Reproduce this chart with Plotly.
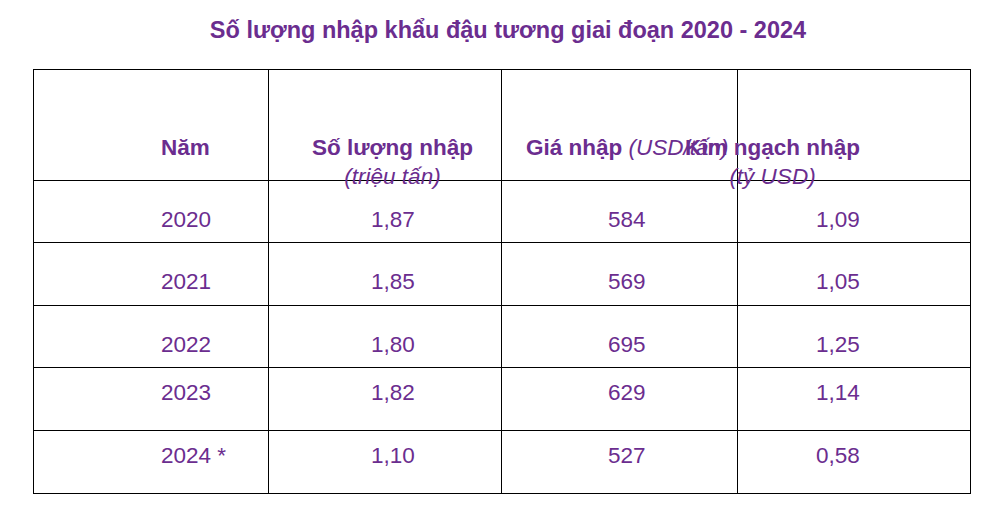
import plotly.graph_objects as go

purple = "#6b2d8f"

years = ["2020", "2021", "2022", "2023", "2024 *"]
volume = ["1,87", "1,85", "1,80", "1,82", "1,10"]
price = ["584", "569", "695", "629", "527"]
turnover = ["1,09", "1,05", "1,25", "1,14", "0,58"]

headers = [
    "<b>Năm</b>",
    "<b>Số lượng nhập</b><br><i>(triệu tấn)</i>",
    "<b>Giá nhập</b> <i>(USD/tấn)</i>",
    "<b>Kim ngạch nhập</b><br><i>(tỷ USD)</i>",
]
columns = [years, volume, price, turnover]

# table geometry in pixels (1000x508 page)
W, H = 1000, 508
col_edges = [33, 268, 501, 737, 970]
top, head_h, row_h = 69, 111, 62.6
blank = "rgba(0,0,0,0)"

fig = go.Figure(go.Table(
    domain=dict(x=[0.025, 0.962], y=[0.0, 1 - 61 / H]),
    columnwidth=[235, 233, 236, 233],
    header=dict(values=headers, height=head_h, line=dict(color="black", width=1),
                fill_color="white", font=dict(size=20, color=blank)),
    cells=dict(values=columns, height=row_h, line=dict(color="black", width=1),
               fill_color="white", font=dict(size=20, color=blank)),
))

font = dict(family="Liberation Sans", size=22.5, color=purple)
for c, head in enumerate(headers):
    xc = (col_edges[c] + col_edges[c + 1]) / 2 / W
    fig.add_annotation(text=head, x=xc, y=1 - (top + head_h / 2) / H, xref="paper",
                       yref="paper", showarrow=False, font=font, align="center")
    for r, val in enumerate(columns[c]):
        yc = 1 - (top + head_h + row_h * (r + 0.5)) / H
        fig.add_annotation(text=val, x=xc, y=yc, xref="paper", yref="paper",
                           showarrow=False, font=font)

fig.update_layout(
    width=W, height=H,
    margin=dict(l=0, r=0, t=0, b=0),
    paper_bgcolor="white",
    title=dict(
        text="<b>Số lượng nhập khẩu đậu tương giai đoạn 2020 - 2024</b>",
        x=0.5, y=1 - 22 / H, xanchor="center", yanchor="middle",
        font=dict(family="Liberation Sans", size=23.5, color=purple),
    ),
)

fig.write_html("out.html")
